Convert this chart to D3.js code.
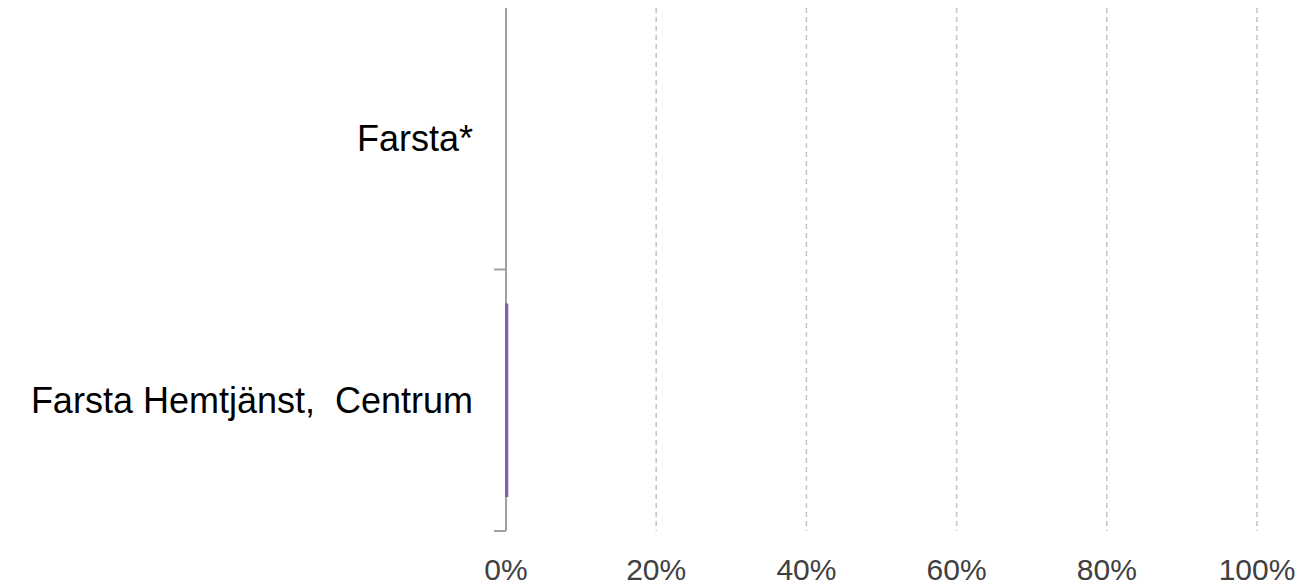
<!DOCTYPE html>
<html>
<head>
<meta charset="utf-8">
<script src="https://cdn.jsdelivr.net/npm/d3@7"></script>
<style>
  html, body { margin: 0; padding: 0; background: #fff; }
  svg { display: block; font-family: "Liberation Sans", Arial, sans-serif; }
  text { white-space: pre; }
</style>
</head>
<body>
<div id="chart"></div>
<script>
const categories = ["Farsta*", "Farsta Hemtjänst,  Centrum"];
const values = [0, 0.003];
const tickValues = [0, 0.2, 0.4, 0.6, 0.8, 1.0];

const W = 1316, H = 586,
  plotLeft = 506, plotRight = 1257, plotTop = 8, plotBottom = 531,
  barColor = "#7f5fa8",
  axisColor = "#a0a0a0",
  gridColor = "#c4c4c4";

const svg = d3.select("#chart").append("svg")
  .attr("width", W)
  .attr("height", H);

const x = d3.scaleLinear().domain([0, 1]).range([plotLeft, plotRight]);
const y = d3.scaleBand()
  .domain(categories)
  .range([plotTop, plotBottom])
  .paddingInner(0.26)
  .paddingOuter(0.13);

// band boundaries: a tick sits below each category
const rows = d3.scaleBand().domain(categories).range([plotTop, plotBottom]);

// dashed gridlines
svg.selectAll(".grid")
  .data(tickValues.filter(d => d > 0))
  .enter()
  .append("line")
  .attr("class", "grid")
  .attr("x1", d => x(d))
  .attr("x2", d => x(d))
  .attr("y1", plotTop)
  .attr("y2", plotBottom)
  .attr("stroke", gridColor)
  .attr("stroke-width", 1.5)
  .attr("stroke-dasharray", "5,4");

// category axis line
svg.append("line")
  .attr("x1", plotLeft).attr("x2", plotLeft)
  .attr("y1", plotTop).attr("y2", plotBottom)
  .attr("stroke", axisColor)
  .attr("stroke-width", 2);

svg.selectAll(".ytick")
  .data(categories)
  .enter()
  .append("line")
  .attr("class", "ytick")
  .attr("x1", plotLeft - 12)
  .attr("x2", plotLeft)
  .attr("y1", d => rows(d) + rows.bandwidth())
  .attr("y2", d => rows(d) + rows.bandwidth())
  .attr("stroke", axisColor)
  .attr("stroke-width", 2);

// bars (drawn over the axis line, as in the original)
svg.selectAll(".bar")
  .data(categories.map((c, i) => ({ c, v: values[i] })))
  .enter()
  .append("rect")
  .attr("class", "bar")
  .attr("x", x(0) - 1)
  .attr("y", d => y(d.c))
  .attr("width", d => d.v > 0 ? x(d.v) - x(0) + 1 : 0)
  .attr("height", y.bandwidth())
  .attr("fill", barColor);

// category labels
svg.selectAll(".ylabel")
  .data(categories)
  .enter()
  .append("text")
  .attr("class", "ylabel")
  .attr("x", 473)
  .attr("y", d => y(d) + y.bandwidth() / 2)
  .attr("dy", "0.35em")
  .attr("text-anchor", "end")
  .attr("font-size", 36)
  .attr("fill", "#000")
  .text(d => d);

// value tick labels
svg.selectAll(".xlabel")
  .data(tickValues)
  .enter()
  .append("text")
  .attr("class", "xlabel")
  .attr("x", d => x(d))
  .attr("y", 580)
  .attr("text-anchor", "middle")
  .attr("font-size", 30)
  .attr("fill", "#404040")
  .text(d => d3.format(".0%")(d));
</script>
</body>
</html>
